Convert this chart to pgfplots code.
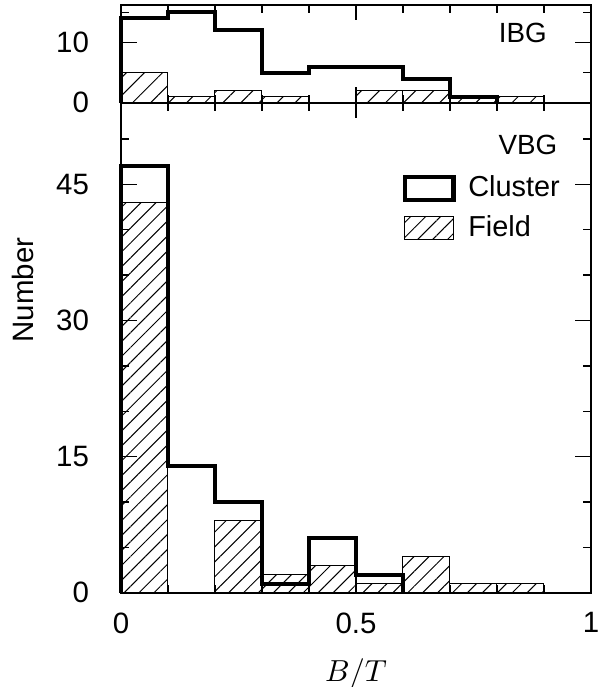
\documentclass[border=0pt]{standalone}
\usepackage{fontspec}
\setmainfont{Liberation Sans}
\usepackage{pgfplots}
\pgfplotsset{compat=1.18}
\usetikzlibrary{patterns.meta}

\pgfplotsset{
  bgpanel/.style={
    scale only axis, width=169.2pt,
    xmin=0, xmax=1, clip=false,
    axis line style={line width=0.72pt},
    tick align=inside,
    major tick length=5.6pt, minor tick length=2.9pt,
    every tick/.style={line width=0.5pt, black},
    xtick={0,0.5,1},
    minor xtick={0.1,0.2,0.3,0.4,0.6,0.7,0.8,0.9},
    tick label style={font=\fontsize{10.6}{12}\selectfont},
    /pgf/number format/assume math mode=true,
    xticklabel style={yshift=-3.6pt},
    yticklabel style={xshift=-8pt},
  },
  cluster/.style={const plot, line width=1.45pt, black},
}

\begin{document}
\begin{tikzpicture}
% lower panel: VBG
\begin{axis}[bgpanel, height=176.4pt,
  ymin=0, ymax=54,
  ytick={0,15,30,45},
  minor ytick={5,10,20,25,35,40,50},
  legend style={at={(axis cs:0.598,46.6)}, anchor=north west,
    draw=none, fill=none, inner sep=0pt, row sep=1.2pt,
    font=\fontsize{10.4}{12}\selectfont,
    /tikz/every odd column/.append style={column sep=2.6pt}},
  legend cell align=left]
\addplot[ybar interval, draw=black, line width=0.36pt,
  pattern={Lines[angle=45,distance=3.8pt,line width=0.36pt]}, forget plot]
  coordinates {(0,43) (0.1,0) (0.2,8) (0.3,2) (0.4,3) (0.5,1) (0.6,4) (0.7,1) (0.8,1) (0.9,0)};
\addplot[cluster,
  legend image code/.code={\draw[line width=1.45pt] (0pt,-4.2pt) rectangle (17.6pt,4.2pt);}]
  coordinates {(0,0) (0,47) (0.1,14) (0.2,10) (0.3,1) (0.4,6) (0.5,2) (0.6,0)};
\addlegendentry{Cluster}
\addlegendimage{legend image code/.code={\draw[line width=0.36pt,
  pattern={Lines[angle=45,distance=3.8pt,line width=0.36pt]}] (0pt,-4pt) rectangle (17.6pt,4pt);}}
\addlegendentry{Field}
\node[font=\fontsize{10}{11}\selectfont] at (rel axis cs:0.866,0.914) {VBG};
\end{axis}

% upper panel: IBG
\begin{axis}[bgpanel, height=35.28pt,
  at={(0,176.4pt)}, anchor=south west,
  ymin=0, ymax=16.25,
  ytick={0,10}, minor ytick={5,15},
  xticklabels={}]
\addplot[ybar interval, draw=black, line width=0.36pt,
  pattern={Lines[angle=45,distance=4.6pt,line width=0.36pt]}]
  coordinates {(0,5) (0.1,1) (0.2,2) (0.3,1) (0.4,0) (0.5,2) (0.6,2) (0.7,1) (0.8,1) (0.9,0)};
\addplot[cluster]
  coordinates {(0,0) (0,14) (0.1,15) (0.2,12) (0.3,5) (0.4,6) (0.5,6) (0.6,4) (0.7,1) (0.8,0)};
\node[font=\fontsize{10}{11}\selectfont] at (rel axis cs:0.855,0.711) {IBG};
\end{axis}

\node[rotate=90, font=\fontsize{10.6}{12}\selectfont] at (-35.3pt,109pt) {Number};
\node[font=\fontsize{10.8}{12}\selectfont] at (84.6pt,-29.4pt) {$B/T$};

\pgfresetboundingbox
\path[use as bounding box] (-43.56pt,-33.95pt) rectangle (171.72pt,213.37pt);
\end{tikzpicture}
\end{document}
